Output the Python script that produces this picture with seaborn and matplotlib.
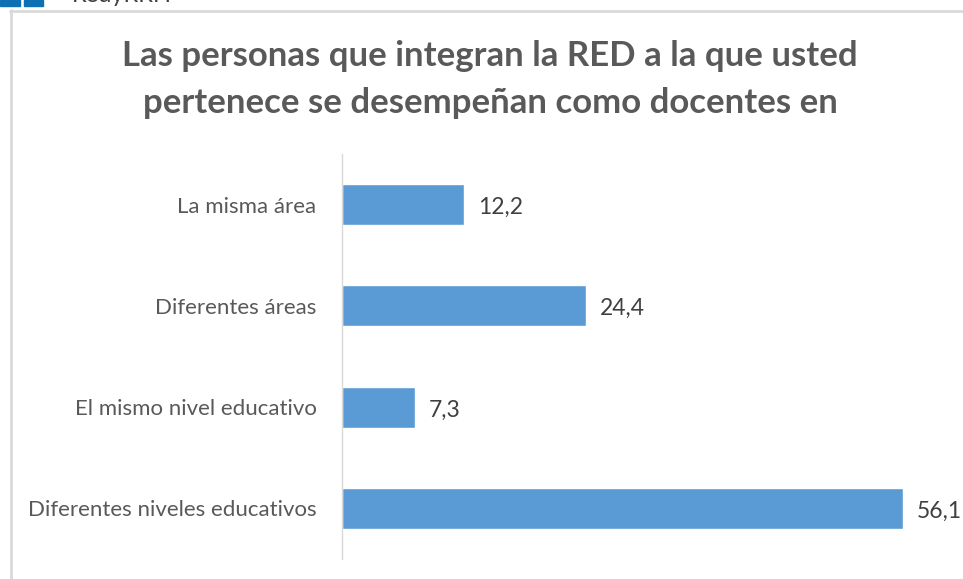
import matplotlib
matplotlib.use("Agg")
import matplotlib.pyplot as plt
from matplotlib.patches import Rectangle
from matplotlib.lines import Line2D
import seaborn as sns
import pandas as pd

categories = ["La misma área", "Diferentes áreas", "El mismo nivel educativo", "Diferentes niveles educativos"]
values = [12.2, 24.4, 7.3, 56.1]
value_labels = ["12,2", "24,4", "7,3", "56,1"]
title_text = "Las personas que integran la RED a la que usted\npertenece se desempeñan como docentes en"

W, H = 963, 579
sns.set_theme(style="white")
plt.rcParams["font.family"] = ["Lato", "DejaVu Sans"]

fig = plt.figure(figsize=(W / 100, H / 100), dpi=100, facecolor="white")
ax = fig.add_axes([341.5 / W, 1 - 559 / H, (W - 341.5) / W, 405 / H])
df = pd.DataFrame({"cat": categories, "val": values})
sns.barplot(data=df, y="cat", x="val", color="#5B9BD5", saturation=1, width=0.405, ax=ax)
ax.set_xlim(0, 62.15)
ax.set_ylim(3.5, -0.5)
ax.set_xlabel("")
ax.set_ylabel("")
ax.xaxis.set_visible(False)
for s in ("top", "right", "bottom"):
    ax.spines[s].set_visible(False)
ax.spines["left"].set_color("#D9D9D9")
ax.spines["left"].set_linewidth(1)
ax.tick_params(axis="y", length=0, pad=18, labelsize=16, labelcolor="#595959")
ax.patch.set_alpha(0)

for i, (v, lab) in enumerate(zip(values, value_labels)):
    ax.annotate(lab, (v, i), xytext=(10.5, -2), textcoords="offset points", va="center", ha="left",
                fontsize=16.5, color="#404040", annotation_clip=False)

fig.text(490 / W, 1 - 79.5 / H, title_text, ha="center", va="center", fontsize=25, fontweight="bold",
         color="#595959", linespacing=1.55)

# outer chart frame and cropped header
fig.add_artist(Line2D([10.5 / W, 10.5 / W], [0, 1 - 10 / H], color="#D9D9D9", lw=2))
fig.add_artist(Line2D([10 / W, 1], [1 - 10.5 / H, 1 - 10.5 / H], color="#D9D9D9", lw=2))
fig.add_artist(Rectangle((0, 1 - 6 / H), 20 / W, 6 / H, transform=fig.transFigure, color="#0F6FB5"))
fig.add_artist(Rectangle((24 / W, 1 - 6 / H), 19 / W, 6 / H, transform=fig.transFigure, color="#0F6FB5"))
fig.text(72 / W, 1 - 2 / H, "RedyRRH", ha="left", va="baseline", fontsize=17, color="#404040")

fig.savefig("out.png", dpi=100)
